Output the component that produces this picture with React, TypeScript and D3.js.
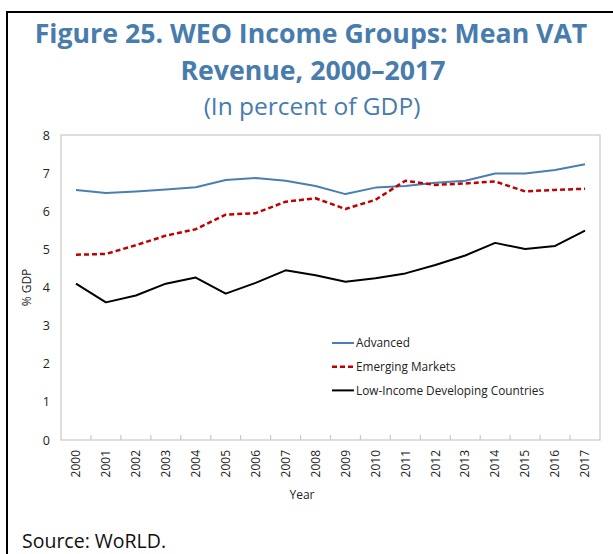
import React from 'react';
import { select, scaleBand, scaleLinear, line, axisLeft, axisBottom } from 'd3';

const years = ['2000', '2001', '2002', '2003', '2004', '2005', '2006', '2007', '2008',
    '2009', '2010', '2011', '2012', '2013', '2014', '2015', '2016', '2017'];
const advanced = [6.56, 6.48, 6.52, 6.57, 6.63, 6.82, 6.87, 6.80, 6.66,
    6.45, 6.62, 6.66, 6.75, 6.80, 6.99, 6.99, 7.08, 7.23];
const emerging = [4.86, 4.88, 5.11, 5.36, 5.53, 5.91, 5.95, 6.25, 6.34,
    6.06, 6.30, 6.80, 6.69, 6.73, 6.78, 6.52, 6.56, 6.59];
const lowIncome = [4.10, 3.61, 3.79, 4.10, 4.26, 3.84, 4.12, 4.45, 4.32,
    4.15, 4.24, 4.37, 4.59, 4.84, 5.17, 5.01, 5.09, 5.49];
const yTicks = [0, 1, 2, 3, 4, 5, 6, 7, 8];
const seriesNames = ['Advanced', 'Emerging Markets', 'Low-Income Developing Countries'];

const W = 613;
const H = 554;
const plot = { left: 61, right: 600, top: 135, bottom: 440 };
const titleColor = '#477cad';
const font = "'Open Sans', 'Noto Sans', sans-serif";

const styles = [
    { color: '#4a7fb0', width: 2, dash: null },
    { color: '#c00000', width: 2.5, dash: '5,3' },
    { color: '#000000', width: 2, dash: null },
];

const App = () => {
    const ref = React.useRef<SVGSVGElement>(null);

    const init = () => {
        const svg = select(ref.current);
        svg.selectAll('*').remove();

        // outer frame (cut off by the window on right/bottom)
        svg.append('path')
            .attr('d', `M7,${H + 10} V12 H${W + 10}`)
            .attr('fill', 'none')
            .attr('stroke', '#000')
            .attr('stroke-width', 2);

        // title
        const title = svg.append('g').attr('fill', titleColor).attr('text-anchor', 'middle')
            .style('font-family', font);
        title.append('text').attr('x', 311).attr('y', 43)
            .attr('font-size', 26.7).attr('font-weight', 700)
            .text('Figure 25. WEO Income Groups: Mean VAT');
        title.append('text').attr('x', 313).attr('y', 80)
            .attr('font-size', 26.7).attr('font-weight', 700)
            .text('Revenue, 2000\u20132017');
        title.append('text').attr('x', 312).attr('y', 115)
            .attr('font-size', 24.5).attr('font-weight', 400)
            .text('(In percent of GDP)');

        const x = scaleBand<string>().domain(years).range([plot.left, plot.right]);
        const y = scaleLinear().domain([0, 8]).range([plot.bottom, plot.top]);

        // plot frame
        svg.append('rect')
            .attr('x', plot.left).attr('y', plot.top)
            .attr('width', plot.right - plot.left).attr('height', plot.bottom - plot.top)
            .attr('fill', 'none').attr('stroke', '#c8c8c8').attr('stroke-width', 1.2);

        // y axis labels
        const yAxis = svg.append('g')
            .attr('transform', `translate(${plot.left},0)`)
            .call(axisLeft(y).tickValues(yTicks).tickSize(0).tickPadding(11));
        yAxis.select('.domain').remove();
        yAxis.selectAll('text').attr('font-size', 12.5).attr('fill', '#222')
            .style('font-family', font);

        // x axis: inward ticks at band edges
        const edges = years.slice(1);
        svg.append('g').selectAll('line').data(edges).join('line')
            .attr('x1', d => x(d)!).attr('x2', d => x(d)!)
            .attr('y1', plot.bottom).attr('y2', plot.bottom - 5)
            .attr('stroke', '#c8c8c8').attr('stroke-width', 1.2);

        const xAxis = svg.append('g')
            .attr('transform', `translate(0,${plot.bottom})`)
            .call(axisBottom(x).tickSize(0).tickPadding(0));
        xAxis.select('.domain').remove();
        xAxis.selectAll('text')
            .attr('transform', 'rotate(-90)')
            .attr('text-anchor', 'end')
            .attr('dy', '0.35em')
            .attr('x', -10).attr('y', 0)
            .attr('font-size', 12).attr('fill', '#222')
            .style('font-family', font);

        // axis titles
        svg.append('text').attr('x', 302).attr('y', 499).attr('text-anchor', 'middle')
            .attr('font-size', 12).attr('fill', '#222').style('font-family', font).text('Year');
        svg.append('text').attr('transform', `translate(31,${(plot.top + plot.bottom) / 2}) rotate(-90)`)
            .attr('text-anchor', 'middle')
            .attr('font-size', 12).attr('fill', '#222').style('font-family', font).text('% GDP');

        // series
        const all = [advanced, emerging, lowIncome];
        const gen = line<number>()
            .x((_, i) => x(years[i])! + x.bandwidth() / 2)
            .y(d => y(d));
        svg.append('g').selectAll('path').data(all).join('path')
            .attr('d', d => gen(d))
            .attr('fill', 'none')
            .attr('stroke', (_, i) => styles[i].color)
            .attr('stroke-width', (_, i) => styles[i].width)
            .attr('stroke-dasharray', (_, i) => styles[i].dash)
            .attr('stroke-linejoin', 'round');

        // legend
        const legend = svg.append('g').attr('transform', 'translate(332,343)');
        const rows = legend.selectAll('g').data(seriesNames).join('g')
            .attr('transform', (_, i) => `translate(0,${i * 23.7})`);
        rows.append('line')
            .attr('x1', 0).attr('x2', 22).attr('y1', 0).attr('y2', 0)
            .attr('stroke', (_, i) => styles[i].color)
            .attr('stroke-width', (_, i) => styles[i].width)
            .attr('stroke-dasharray', (_, i) => styles[i].dash);
        rows.append('text').attr('x', 24).attr('dy', '0.35em')
            .attr('font-size', 11.8).attr('fill', '#222').style('font-family', font)
            .text(d => d);

        // source note
        svg.append('text').attr('x', 22).attr('y', 548)
            .attr('font-size', 19.5).attr('fill', '#111').style('font-family', font)
            .text('Source: WoRLD.');
    };

    React.useEffect(() => {
        init();
    }, []);

    return (
        <svg ref={ref} width={W} height={H}
            style={{ position: 'absolute', left: 0, top: 0, display: 'block', background: '#fff' }} />
    );
};

export default App;
